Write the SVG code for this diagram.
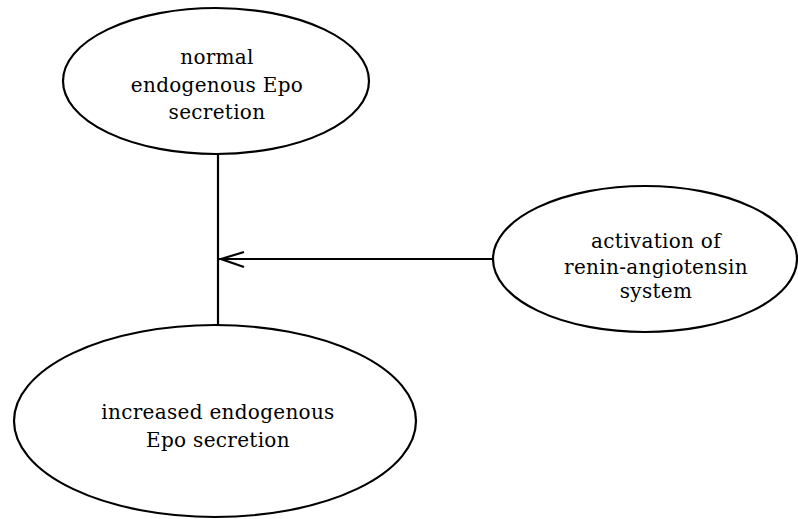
<svg xmlns="http://www.w3.org/2000/svg" width="798" height="519" viewBox="0 0 798 519">
<style>
.n{fill:#fff;stroke:#000;stroke-width:2.2}
.t{font-family:"DejaVu Serif","Liberation Serif",serif;font-size:20px;fill:#000;text-anchor:middle;letter-spacing:0.3px}
.c{fill:none;stroke:#000;stroke-width:2.2}
</style>
<rect width="798" height="519" fill="#fff"/>
<g id="connectors">
<line class="c" x1="218" y1="154" x2="218" y2="325"/>
<line class="c" x1="492" y1="259" x2="219" y2="259"/>
<path class="c" d="M244,252 L221,259 L244,267"/>
</g>
<g id="node-normal">
<ellipse class="n" cx="216" cy="81" rx="153" ry="73"/>
<text class="t" x="217" y="64">normal</text>
<text class="t" x="217" y="92">endogenous Epo</text>
<text class="t" x="217" y="119">secretion</text>
</g>
<g id="node-renin">
<ellipse class="n" cx="645" cy="259" rx="152" ry="73"/>
<text class="t" x="656" y="248">activation of</text>
<text class="t" x="656" y="274">renin-angiotensin</text>
<text class="t" x="656" y="298">system</text>
</g>
<g id="node-increased">
<ellipse class="n" cx="215" cy="421" rx="201" ry="96"/>
<text class="t" x="218" y="419">increased endogenous</text>
<text class="t" x="218" y="447">Epo secretion</text>
</g>
</svg>
